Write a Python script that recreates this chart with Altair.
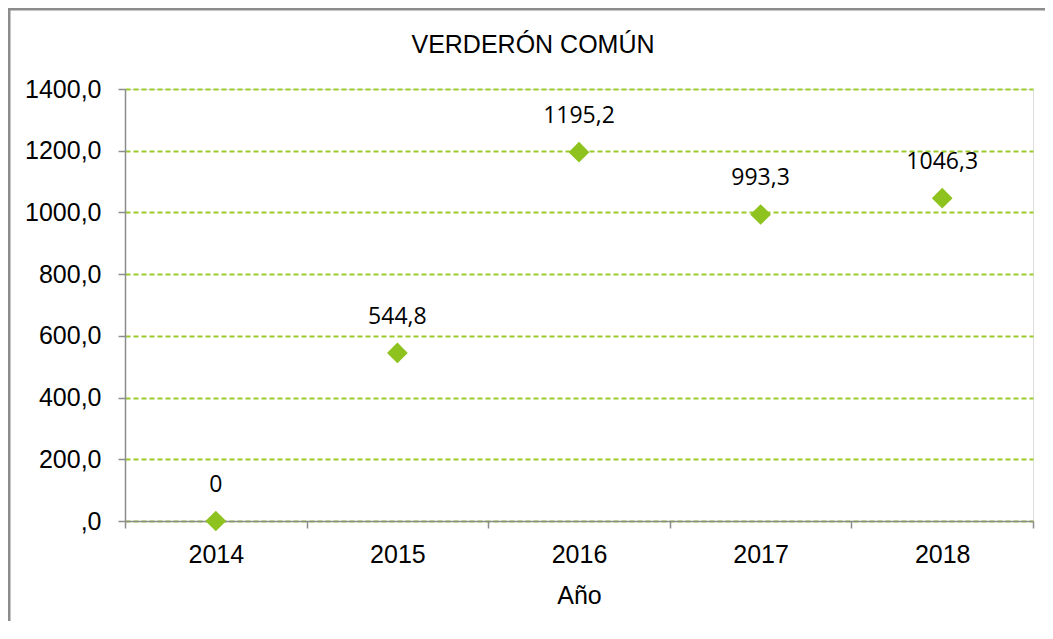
import altair as alt
import pandas as pd

years = ["2014", "2015", "2016", "2017", "2018"]
values = [0, 544.8, 1195.2, 993.3, 1046.3]
labels = ["0", "544,8", "1195,2", "993,3", "1046,3"]
y_ticks = [0, 200, 400, 600, 800, 1000, 1200, 1400]
chart_title = "VERDERÓN COMÚN"

df = pd.DataFrame({"year": years, "value": values, "label": labels})

W, H = 908, 432
PAD_L, PAD_T, PAD_R, PAD_B = 117, 81, 12, 100

x_enc = alt.X(
    "year:O",
    title="Año",
    scale=alt.Scale(paddingInner=0, paddingOuter=0),
    axis=alt.Axis(
        labelAngle=0,
        tickBand="extent",
        tickSize=7,
        labelPadding=14,
        labelFontSize=25,
        labelFont="Liberation Sans",
        labelColor="#000000",
        titleFontSize=25,
        titleFont="Liberation Sans",
        titleFontWeight="normal",
        titleColor="#000000",
        titlePadding=16,
        domainColor="#8c8c8c",
        domainWidth=1.5,
        tickColor="#8c8c8c",
        tickWidth=1.5,
        grid=False,
    ),
)
y_enc = alt.Y(
    "value:Q",
    title=None,
    scale=alt.Scale(domain=[0, 1400], nice=False),
    axis=alt.Axis(
        values=y_ticks,
        labelExpr="datum.value == 0 ? ',0' : replace(format(datum.value, '.1f'), '.', ',')",
        tickSize=7,
        labelPadding=17,
        labelFontSize=25,
        labelFont="Liberation Sans",
        labelColor="#000000",
        domainColor="#8c8c8c",
        domainWidth=1.5,
        tickColor="#8c8c8c",
        tickWidth=1.5,
        grid=True,
        gridColor="#9bcb2a",
        gridDash=[5, 3],
        gridWidth=1.8,
    ),
)

frame = alt.Chart(alt.Data(values=[{"a": 1}])).mark_rect(
    fill=None, stroke="#8c8c8c", strokeWidth=3
).encode(
    x=alt.value(-PAD_L + 1),
    x2=alt.value(W + 200),
    y=alt.value(-PAD_T + 1),
    y2=alt.value(H + 300),
)

title = alt.Chart(alt.Data(values=[{"t": chart_title}])).mark_text(
    fontSize=25, font="Liberation Sans", color="#000000",
    align="center", baseline="alphabetic"
).encode(
    x=alt.value(408),
    y=alt.value(-36),
    text="t:N",
)

base = alt.Chart(df)
points = base.mark_point(
    shape="diamond", filled=True, size=430, color="#8dc21f", opacity=1
).encode(x=x_enc, y=y_enc)

text = base.mark_text(
    dy=-36, fontSize=23, font="Open Sans", color="#000000", baseline="middle"
).encode(x=alt.X("year:O"), y=alt.Y("value:Q"), text="label:N")

chart = (
    alt.layer(frame, title, points, text)
    .properties(
        width=W,
        height=H,
        padding={"left": PAD_L, "top": PAD_T, "right": PAD_R, "bottom": PAD_B},
        autosize=alt.AutoSizeParams(type="none"),
    )
    .configure_view(stroke=None)
    .configure(background="#ffffff")
)

chart.save("out.html", embed_options={"renderer": "svg", "actions": False})
